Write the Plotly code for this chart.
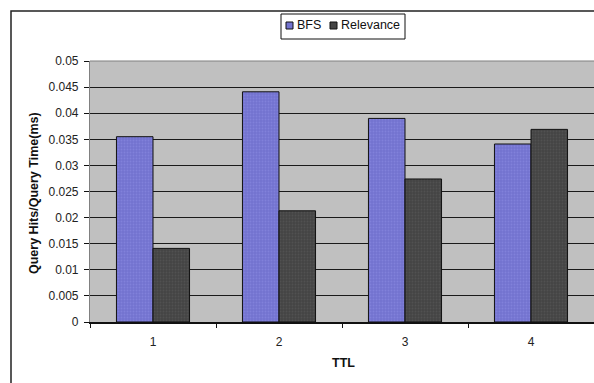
import plotly.graph_objects as go

# Data
ttl = ["1", "2", "3", "4"]
bfs = [0.0355, 0.0441, 0.0390, 0.0341]
relevance = [0.0141, 0.0213, 0.0274, 0.0369]
y_ticks = [0, 0.005, 0.01, 0.015, 0.02, 0.025, 0.03, 0.035, 0.04, 0.045, 0.05]
y_labels = ["0", "0.005", "0.01", "0.015", "0.02", "0.025", "0.03", "0.035", "0.04", "0.045", "0.05"]

W, H = 594, 383
L, R, T, B = 90, 0, 61, 61
PW, PH = W - L - R, H - T - B


def px(x):
    return (x - L) / PW


def py(y):
    return (H - B - y) / PH


FONT = "Arial, Liberation Sans, sans-serif"
BFS_COLOR = "#7373CF"
REL_COLOR = "#444444"

fig = go.Figure()
fig.add_trace(go.Bar(
    x=ttl, y=bfs, name="BFS",
    marker=dict(color=BFS_COLOR, line=dict(color="#111111", width=1),
                pattern=dict(shape=".", fgcolor="#9090E6", size=3, solidity=0.3)),
))
fig.add_trace(go.Bar(
    x=ttl, y=relevance, name="Relevance",
    marker=dict(color=REL_COLOR, line=dict(color="#111111", width=1),
                pattern=dict(shape=".", fgcolor="#5E5E5E", size=3, solidity=0.3)),
))

shapes = [
    # outer chart frame
    dict(type="rect", xref="paper", yref="paper", x0=px(11), x1=1.2, y0=-0.6, y1=py(11),
         line=dict(color="#222222", width=1.5), fillcolor="rgba(0,0,0,0)", layer="above"),
    # top border of the plot area
    dict(type="line", xref="paper", yref="paper", x0=0, x1=1, y0=1, y1=1,
         line=dict(color="#808080", width=1.2), layer="above"),
    # legend box
    dict(type="rect", xref="paper", yref="paper", x0=px(281), x1=px(405), y0=py(39), y1=py(14),
         line=dict(color="#111111", width=1), fillcolor="white", layer="above"),
    # legend swatches
    dict(type="rect", xref="paper", yref="paper", x0=px(286), x1=px(293), y0=py(29), y1=py(22),
         line=dict(color="#111111", width=1), fillcolor=BFS_COLOR, layer="above"),
    dict(type="rect", xref="paper", yref="paper", x0=px(330), x1=px(337), y0=py(29), y1=py(22),
         line=dict(color="#111111", width=1), fillcolor=REL_COLOR, layer="above"),
]

annotations = [
    dict(text="BFS", x=px(294.5), y=py(25.5), xref="paper", yref="paper",
         xanchor="left", yanchor="middle", showarrow=False,
         font=dict(family=FONT, size=12.5, color="#111111")),
    dict(text="Relevance", x=px(338.5), y=py(25.5), xref="paper", yref="paper",
         xanchor="left", yanchor="middle", showarrow=False,
         font=dict(family=FONT, size=12.5, color="#111111")),
    dict(text="<b>Query Hits/Query Time(ms)</b>", x=px(34), y=py(193), xref="paper", yref="paper",
         xanchor="center", yanchor="middle", textangle=-90, showarrow=False,
         font=dict(family=FONT, size=12.5, color="#111111")),
    dict(text="<b>TTL</b>", x=px(343), y=py(363), xref="paper", yref="paper",
         xanchor="center", yanchor="middle", showarrow=False,
         font=dict(family=FONT, size=12.5, color="#111111")),
]

fig.update_layout(
    width=W, height=H,
    margin=dict(l=L, r=R, t=T, b=B, pad=0),
    paper_bgcolor="white",
    plot_bgcolor="#C0C0C0",
    barmode="group",
    bargap=0.42,
    bargroupgap=0,
    showlegend=False,
    font=dict(family=FONT, size=12, color="#222222"),
    shapes=shapes,
    annotations=annotations,
    xaxis=dict(
        type="category", tickson="boundaries", ticks="outside", ticklen=4,
        tickcolor="#111111", tickwidth=1, showgrid=False,
        showline=True, linecolor="#111111", linewidth=1.5,
        ticklabelstandoff=8, tickfont=dict(size=12, color="#222222"),
        fixedrange=True,
    ),
    yaxis=dict(
        range=[0, 0.05], tickvals=y_ticks, ticktext=y_labels,
        ticks="outside", ticklen=5, tickcolor="#111111", tickwidth=1,
        showgrid=True, gridcolor="#1a1a1a", gridwidth=1,
        showline=True, linecolor="#808080", linewidth=1.2,
        zeroline=False, ticklabelstandoff=3,
        tickfont=dict(size=12, color="#222222"),
        fixedrange=True,
    ),
)

fig.write_html("out.html", config=dict(displayModeBar=False))
